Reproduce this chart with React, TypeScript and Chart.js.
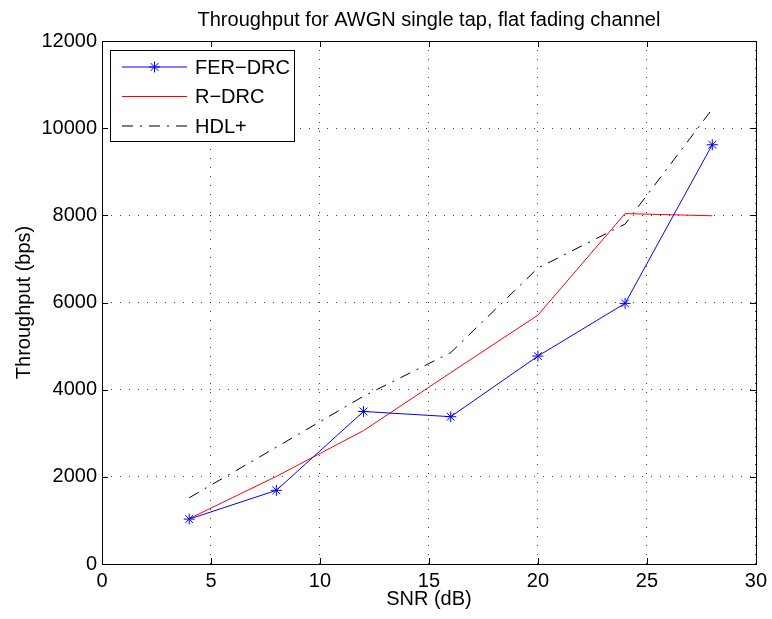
import React, { useEffect, useRef } from "react";
import { Chart, registerables } from "chart.js";

Chart.register(...registerables);

const FONT = "'Liberation Sans', Arial, Helvetica, sans-serif";
const FS = 20;

const snr = [4, 8, 12, 16, 20, 24, 28];
const ferDrc = [1030, 1690, 3500, 3380, 4770, 5980, 9620];
const rDrc = [1040, 2010, 3060, 4390, 5710, 8040, 7990];
const hdlPlus = [1520, 2680, 3850, 4850, 6790, 7800, 10440];
const seriesNames = ["FER\u2212DRC", "R\u2212DRC", "HDL+"];
const titleText = "Throughput for AWGN single tap, flat fading channel";
const xLabel = "SNR (dB)";
const yLabel = "Throughput (bps)";

const boxPlugin = {
  id: "matlabBox",
  afterDraw(chart: any) {
    const { ctx, chartArea } = chart;
    const { left, right, top, bottom } = chartArea;
    const xs = chart.scales.x;
    const ys = chart.scales.y;
    const tl = 6;
    ctx.save();
    ctx.strokeStyle = "#000";
    ctx.lineWidth = 1;
    ctx.setLineDash([]);
    ctx.beginPath();
    xs.ticks.forEach((t: any) => {
      const px = Math.round(xs.getPixelForValue(t.value)) + 0.5;
      ctx.moveTo(px, bottom);
      ctx.lineTo(px, bottom - tl);
      ctx.moveTo(px, top);
      ctx.lineTo(px, top + tl);
    });
    ys.ticks.forEach((t: any) => {
      const py = Math.round(ys.getPixelForValue(t.value)) + 0.5;
      ctx.moveTo(left, py);
      ctx.lineTo(left + tl, py);
      ctx.moveTo(right, py);
      ctx.lineTo(right - tl, py);
    });
    ctx.stroke();
    ctx.strokeRect(Math.round(left) + 0.5, Math.round(top) + 0.5, Math.round(right - left), Math.round(bottom - top));

    // title
    ctx.fillStyle = "#000";
    ctx.font = `${FS}px ${FONT}`;
    ctx.textAlign = "center";
    ctx.textBaseline = "middle";
    ctx.fillText(titleText, (left + right) / 2, 20);

    // legend
    const lx = 110.5, ly = 50.5, lw = 184, lh = 91;
    ctx.fillStyle = "#fff";
    ctx.fillRect(lx, ly, lw, lh);
    ctx.strokeRect(lx, ly, lw, lh);
    const rows = [67, 96.5, 126];
    chart.data.datasets.forEach((ds: any, i: number) => {
      const y = rows[i];
      ctx.save();
      ctx.strokeStyle = ds.borderColor;
      ctx.lineWidth = 1;
      ctx.setLineDash(ds.borderDash || []);
      ctx.beginPath();
      ctx.moveTo(122, y);
      ctx.lineTo(187, y);
      ctx.stroke();
      ctx.setLineDash([]);
      if (ds.pointRadius > 0) {
        const r = ds.pointRadius;
        const cx = 154.5;
        ctx.beginPath();
        ctx.moveTo(cx - r, y); ctx.lineTo(cx + r, y);
        ctx.moveTo(cx, y - r); ctx.lineTo(cx, y + r);
        const d = r * Math.SQRT1_2;
        ctx.moveTo(cx - d, y - d); ctx.lineTo(cx + d, y + d);
        ctx.moveTo(cx - d, y + d); ctx.lineTo(cx + d, y - d);
        ctx.stroke();
      }
      ctx.restore();
      ctx.fillStyle = "#000";
      ctx.font = `${FS}px ${FONT}`;
      ctx.textBaseline = "middle";
      ctx.textAlign = "left";
      ctx.fillText(ds.label, 195, y + 1);
    });
    ctx.restore();
  },
};

export default function App() {
  const ref = useRef<HTMLCanvasElement | null>(null);
  useEffect(() => {
    if (!ref.current) return;
    const mk = (arr: number[]) => snr.map((x, i) => ({ x, y: arr[i] }));
    const chart = new Chart(ref.current, {
      type: "line",
      data: {
        datasets: [
          {
            label: seriesNames[0],
            data: mk(ferDrc),
            borderColor: "#0000ff",
            backgroundColor: "#0000ff",
            borderWidth: 1,
            pointStyle: "star",
            pointRadius: 5.5,
            pointBorderWidth: 1,
            pointBorderColor: "#0000ff",
            tension: 0,
          },
          {
            label: seriesNames[1],
            data: mk(rDrc),
            borderColor: "#ff0000",
            borderWidth: 1,
            pointRadius: 0,
            tension: 0,
          },
          {
            label: seriesNames[2],
            data: mk(hdlPlus),
            borderColor: "#000000",
            borderWidth: 1,
            borderDash: [11, 7, 2, 7],
            pointRadius: 0,
            tension: 0,
          },
        ],
      },
      options: {
        responsive: false,
        animation: false,
        devicePixelRatio: 1,
        layout: { padding: { left: 0, right: 16, top: 41, bottom: 0 } },
        plugins: {
          legend: { display: false },
          tooltip: { enabled: false },
          title: { display: false },
        },
        scales: {
          x: {
            type: "linear",
            min: 0,
            max: 30,
            afterFit: (s: any) => { s.height = 55; },
            ticks: { stepSize: 5, color: "#000", padding: 5, font: { family: FONT, size: FS }, maxRotation: 0, callback: (v: any) => String(v) },
            grid: { color: "rgba(0,0,0,0.75)", drawTicks: false, lineWidth: 1 },
            border: { display: false, dash: [1, 8] },
            title: { display: true, text: xLabel, color: "#000", font: { family: FONT, size: FS }, padding: { top: 0, bottom: 8 } },
          },
          y: {
            type: "linear",
            min: 0,
            max: 12000,
            afterFit: (s: any) => { s.width = 102; },
            ticks: { stepSize: 2000, color: "#000", padding: 5, font: { family: FONT, size: FS }, callback: (v: any) => String(v) },
            grid: { color: "rgba(0,0,0,0.75)", drawTicks: false, lineWidth: 1 },
            border: { display: false, dash: [1, 8] },
            title: { display: true, text: yLabel, color: "#000", font: { family: FONT, size: FS }, padding: { top: 12, bottom: 0 } },
          },
        },
      } as any,
      plugins: [boxPlugin],
    });
    return () => chart.destroy();
  }, []);
  return (
    <div style={{ position: "fixed", left: 0, top: 0, width: 772, height: 619, background: "#fff" }}>
      <canvas ref={ref} width={772} height={619} style={{ width: 772, height: 619, display: "block" }} />
    </div>
  );
}
